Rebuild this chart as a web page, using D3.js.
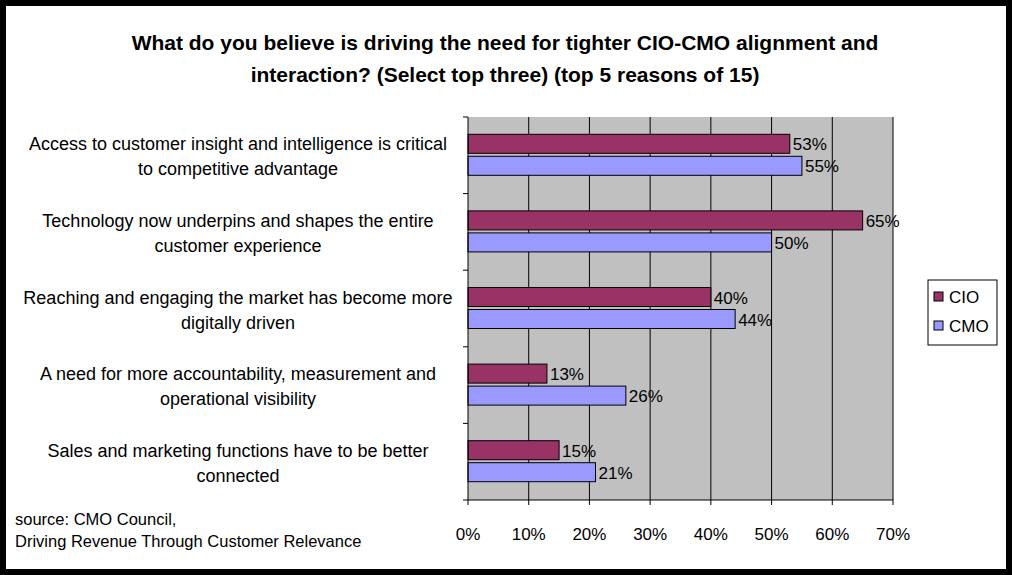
<!DOCTYPE html>
<html><head><meta charset="utf-8">
<script src="https://cdn.jsdelivr.net/npm/d3@7"></script>
<style>body{margin:0;background:#000}svg{display:block;font-family:"Liberation Sans",Arial,sans-serif}</style>
</head><body>
<script>
const categories = [
  ["Access to customer insight and intelligence is critical", "to competitive advantage"],
  ["Technology now underpins and shapes the entire", "customer experience"],
  ["Reaching and engaging the market has become more", "digitally driven"],
  ["A need for more accountability, measurement and", "operational visibility"],
  ["Sales and marketing functions have to be better", "connected"]
];
const cio = [53, 65, 40, 13, 15];
const cmo = [55, 50, 44, 26, 21];
const ticks = [0, 10, 20, 30, 40, 50, 60, 70];

const W = 1012, H = 575;
const svg = d3.select("body").append("svg").attr("width", W).attr("height", H);
svg.append("rect").attr("x", 6).attr("y", 6).attr("width", W - 12).attr("height", H - 12).attr("fill", "#fff");

const x = d3.scaleLinear().domain([0, 70]).range([468, 893]);
const y = d3.scaleBand().domain(d3.range(5)).range([117, 500]);

svg.append("text").attr("x", 505).attr("y", 50).attr("text-anchor", "middle")
  .attr("font-size", 21).attr("font-weight", "bold")
  .text("What do you believe is driving the need for tighter CIO-CMO alignment and");
svg.append("text").attr("x", 505).attr("y", 82).attr("text-anchor", "middle")
  .attr("font-size", 21).attr("font-weight", "bold")
  .text("interaction? (Select top three) (top 5 reasons of 15)");

svg.append("rect").attr("x", x(0)).attr("y", 117).attr("width", x(70) - x(0)).attr("height", 383)
  .attr("fill", "#c0c0c0");
svg.selectAll(".grid").data(ticks.slice(1)).enter().append("line")
  .attr("x1", d => x(d)).attr("x2", d => x(d)).attr("y1", 117).attr("y2", 500)
  .attr("stroke", "#000");

const bh = 19;
const series = [[cio, "#993366", -bh - 2], [cmo, "#9999ff", 1]];
series.forEach(([vals, col, off]) => {
  svg.selectAll(null).data(vals).enter().append("rect")
    .attr("x", x(0)).attr("y", (d, i) => y(i) + y.bandwidth() / 2 + off)
    .attr("width", d => x(d) - x(0)).attr("height", bh)
    .attr("fill", col).attr("stroke", "#000");
  svg.selectAll(null).data(vals).enter().append("text")
    .attr("x", d => x(d) + 3).attr("y", (d, i) => y(i) + y.bandwidth() / 2 + off + 16)
    .attr("font-size", 17).text(d => d + "%");
});

svg.append("line").attr("x1", x(0)).attr("x2", x(0)).attr("y1", 117).attr("y2", 500).attr("stroke", "#000");
svg.append("line").attr("x1", x(0)).attr("x2", x(70)).attr("y1", 500).attr("y2", 500).attr("stroke", "#000");
svg.selectAll(".yt").data(d3.range(6)).enter().append("line")
  .attr("x1", x(0) - 5).attr("x2", x(0)).attr("y1", i => 117 + i * y.step()).attr("y2", i => 117 + i * y.step())
  .attr("stroke", "#000");
svg.selectAll(".xt").data(ticks).enter().append("line")
  .attr("x1", d => x(d)).attr("x2", d => x(d)).attr("y1", 500).attr("y2", 505).attr("stroke", "#000");
svg.selectAll(".xl").data(ticks).enter().append("text")
  .attr("x", d => x(d)).attr("y", 540).attr("text-anchor", "middle").attr("font-size", 17)
  .text(d => d + "%");

categories.forEach((lines, i) => {
  lines.forEach((t, j) => {
    svg.append("text").attr("x", 238).attr("y", y(i) + y.bandwidth() / 2 - 5 + j * 25)
      .attr("text-anchor", "middle").attr("font-size", 18).text(t);
  });
});

const lg = svg.append("g").attr("transform", "translate(928,280)");
lg.append("rect").attr("width", 69).attr("height", 65).attr("fill", "#fff").attr("stroke", "#000");
[["CIO", "#993366"], ["CMO", "#9999ff"]].forEach(([n, c], i) => {
  lg.append("rect").attr("x", 6).attr("y", 12 + i * 29).attr("width", 9).attr("height", 9)
    .attr("fill", c).attr("stroke", "#000");
  lg.append("text").attr("x", 21).attr("y", 23 + i * 29).attr("font-size", 17).text(n);
});

svg.append("text").attr("x", 15).attr("y", 525).attr("font-size", 16.5).text("source: CMO Council,");
svg.append("text").attr("x", 15).attr("y", 547).attr("font-size", 16.5).text("Driving Revenue Through Customer Relevance");
</script>
</body></html>
